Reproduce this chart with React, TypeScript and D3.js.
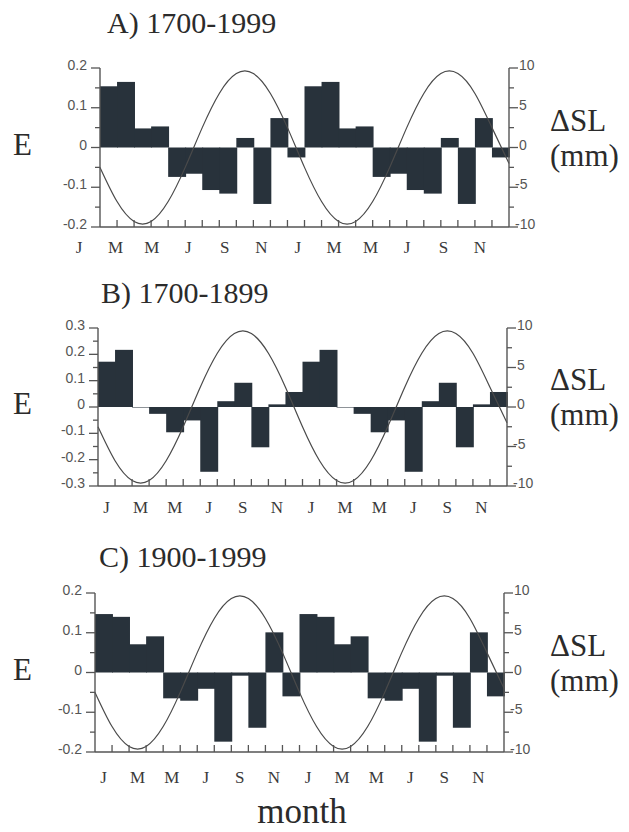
import { useRef, useEffect } from 'react'
import * as d3 from 'd3'

// monthly E values (Jan..Dec), each panel shows two repeated years
const eA = [0.154, 0.165, 0.048, 0.053, -0.074, -0.066, -0.107, -0.116, 0.024, -0.142, 0.074, -0.025]
const eB = [0.172, 0.217, -0.002, -0.026, -0.096, -0.051, -0.246, 0.022, 0.092, -0.153, 0.010, 0.057]
const eC = [0.147, 0.140, 0.071, 0.091, -0.065, -0.071, -0.041, -0.174, -0.008, -0.139, 0.101, -0.060]

// sea level curve (mm) read at each month boundary, 0..24
const slCurve = [-2.5, -6.8, -9.3, -9.3, -6.8, -2.5, 2.5, 6.8, 9.3, 9.3, 6.8, 2.5, -2.5, -6.8, -9.3, -9.3, -6.8, -2.5, 2.5, 6.8, 9.3, 9.3, 6.8, 2.5, -2.0]

const monthLabels = ['J', 'M', 'M', 'J', 'S', 'N', 'J', 'M', 'M', 'J', 'S', 'N']
const titles = ['A) 1700-1999', 'B) 1700-1899', 'C) 1900-1999']
const eLimits = [0.2, 0.3, 0.2]
const slTicks = [-10, -5, 0, 5, 10]

const panels = [
  { data: eA, title: titles[0], lim: eLimits[0], left: 100, right: 509, top: 68, bottom: 227, titleX: 107, titleY: 33, labelY: 253, labelRange: [79, 480] },
  { data: eB, title: titles[1], lim: eLimits[1], left: 98, right: 507, top: 328, bottom: 486, titleX: 101, titleY: 303, labelY: 513, labelRange: null },
  { data: eC, title: titles[2], lim: eLimits[2], left: 95, right: 504, top: 593, bottom: 752, titleX: 99, titleY: 567, labelY: 783, labelRange: null },
]

const barColor = '#28323b'
const axisColor = '#555'
const tickText = '#555'
const serif = '"Liberation Serif", "Times New Roman", serif'
const sans = '"Liberation Sans", Arial, sans-serif'

const fmt = (v: number) => (Math.abs(v) < 1e-9 ? '0' : String(+v.toFixed(2)))

function App() {
  const ref = useRef<SVGSVGElement>(null)

  useEffect(() => {
    const svg = d3.select(ref.current)
    svg.selectAll('*').remove()

    panels.forEach((p) => {
      const g = svg.append('g')
      const x = d3.scaleLinear().domain([0, 24]).range([p.left, p.right])
      const y = d3.scaleLinear().domain([-p.lim, p.lim]).range([p.bottom, p.top])
      const y2 = d3.scaleLinear().domain([-10, 10]).range([p.bottom, p.top])
      const bars = d3.range(24).map((i) => ({ i, v: p.data[i % 12] }))

      // bars (slight overlap so neighbours merge)
      g.selectAll('rect.bar')
        .data(bars)
        .enter()
        .append('rect')
        .attr('x', (d) => x(d.i))
        .attr('width', (d) => x(d.i + 1) - x(d.i) + 0.9)
        .attr('y', (d) => Math.min(y(d.v), y(0)))
        .attr('height', (d) => Math.abs(y(d.v) - y(0)))
        .attr('fill', barColor)

      // sea level curve
      const line = d3.line<number>()
        .x((d, i) => x(i))
        .y((d) => y2(d))
        .curve(d3.curveNatural)
      g.append('path')
        .attr('d', line(slCurve))
        .attr('fill', 'none')
        .attr('stroke', '#4a4a4a')
        .attr('stroke-width', 1.2)

      // left axis
      g.append('line').attr('x1', p.left).attr('x2', p.left).attr('y1', y(p.lim)).attr('y2', y(-p.lim))
        .attr('stroke', axisColor).attr('stroke-width', 1.4)
      const leftTicks = d3.range(-p.lim, p.lim + 0.0001, 0.05)
      g.selectAll('line.lt')
        .data(leftTicks)
        .enter()
        .append('line')
        .attr('x1', (d) => (Math.abs(d * 10 - Math.round(d * 10)) < 1e-6 ? p.left - 9 : p.left - 5))
        .attr('x2', p.left)
        .attr('y1', (d) => y(d))
        .attr('y2', (d) => y(d))
        .attr('stroke', axisColor)
        .attr('stroke-width', 1.3)
      g.selectAll('text.ll')
        .data(d3.range(-Math.round(p.lim * 10), Math.round(p.lim * 10) + 1).map((k) => k / 10))
        .enter()
        .append('text')
        .attr('x', p.left - 13)
        .attr('y', (d) => y(d) + 2)
        .attr('text-anchor', 'end')
        .style('font', `14px ${sans}`)
        .attr('fill', tickText)
        .text((d) => fmt(d))

      // right axis
      g.append('line').attr('x1', p.right).attr('x2', p.right).attr('y1', y2(10)).attr('y2', y2(-10))
        .attr('stroke', axisColor).attr('stroke-width', 1.4)
      g.selectAll('line.rt')
        .data(d3.range(-10, 10.001, 2.5))
        .enter()
        .append('line')
        .attr('x1', p.right)
        .attr('x2', (d) => (d % 5 === 0 ? p.right + 9 : p.right + 5))
        .attr('y1', (d) => y2(d))
        .attr('y2', (d) => y2(d))
        .attr('stroke', axisColor)
        .attr('stroke-width', 1.3)
      g.selectAll('text.rl')
        .data(slTicks)
        .enter()
        .append('text')
        .attr('x', (d) => (d < 0 ? p.right + 6 : p.right + 10))
        .attr('y', (d) => y2(d) + 2)
        .style('font', `14px ${sans}`)
        .attr('fill', tickText)
        .text((d) => String(d))

      // bottom axis with inward month ticks
      g.append('line').attr('x1', p.left).attr('x2', p.right).attr('y1', p.bottom).attr('y2', p.bottom)
        .attr('stroke', axisColor).attr('stroke-width', 1.4)
      g.selectAll('line.bt')
        .data(d3.range(1, 24))
        .enter()
        .append('line')
        .attr('x1', (d) => x(d))
        .attr('x2', (d) => x(d))
        .attr('y1', p.bottom)
        .attr('y2', p.bottom - 7)
        .attr('stroke', axisColor)
        .attr('stroke-width', 1.3)

      const lx = p.labelRange
        ? d3.scalePoint<number>().domain(d3.range(12)).range(p.labelRange as [number, number])
        : (k: number) => x(2 * k + 0.5)
      g.selectAll('text.ml')
        .data(monthLabels.map((m, k) => ({ m, k })))
        .enter()
        .append('text')
        .attr('x', (d) => lx(d.k) as number)
        .attr('y', p.labelY)
        .attr('text-anchor', 'middle')
        .style('font', `17px ${serif}`)
        .attr('fill', '#3a3a3a')
        .text((d) => d.m)

      // titles and axis names
      g.append('text')
        .attr('x', p.titleX)
        .attr('y', p.titleY)
        .style('font', `30px ${serif}`)
        .attr('fill', '#2b2b2b')
        .text(p.title)
      g.append('text')
        .attr('x', 13)
        .attr('y', y(0) + 7)
        .style('font', `31px ${serif}`)
        .attr('fill', '#2b2b2b')
        .text('E')
      g.append('text')
        .attr('x', 550)
        .attr('y', y(0) - 17)
        .style('font', `31px ${serif}`)
        .attr('fill', '#2b2b2b')
        .text('\u0394SL')
      g.append('text')
        .attr('x', 550)
        .attr('y', y(0) + 18)
        .style('font', `31px ${serif}`)
        .attr('fill', '#2b2b2b')
        .text('(mm)')
    })

    svg.append('text')
      .attr('x', 302)
      .attr('y', 823)
      .attr('text-anchor', 'middle')
      .style('font', `35px ${serif}`)
      .attr('fill', '#2b2b2b')
      .text('month')
  }, [])

  return (
    <div>
      <svg ref={ref} width={629} height={832}
        style={{ position: 'absolute', left: 0, top: 0, background: '#fff' }}>
      </svg>
    </div>
  )
}

export default App
